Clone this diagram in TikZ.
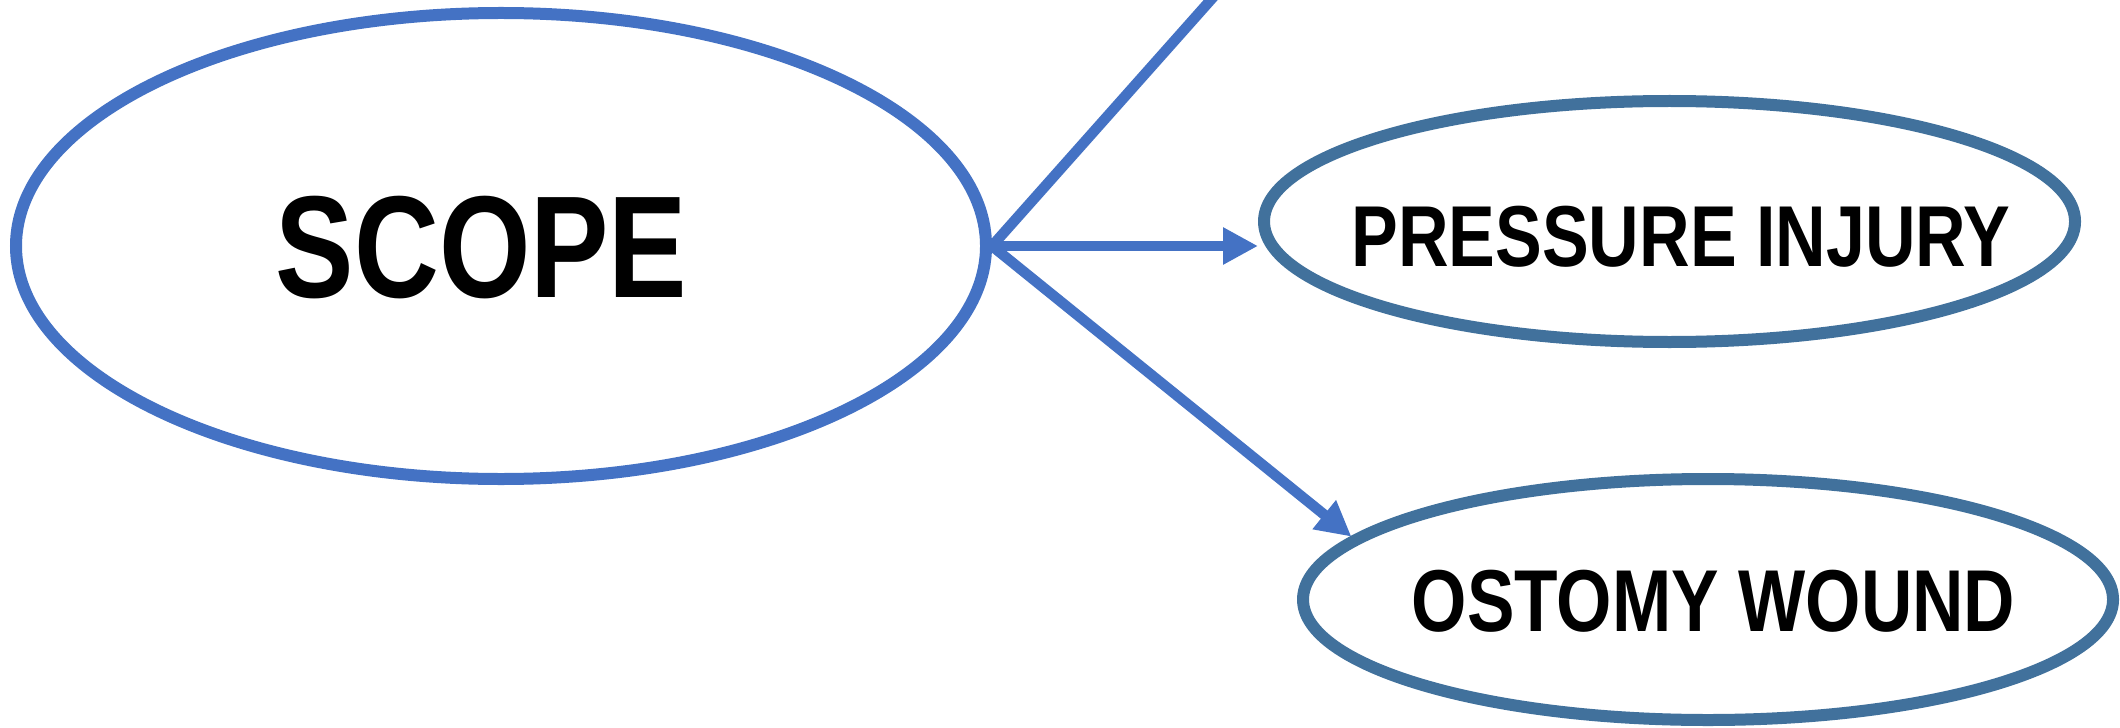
\documentclass[tikz,border=0pt]{standalone}
\usepackage{fontspec}
\usetikzlibrary{shapes.geometric, arrows.meta}
\newfontfamily\narrowsans{Liberation Sans}[FakeStretch=0.81]
\definecolor{scopeblue}{HTML}{4472C4}
\definecolor{steelblue}{HTML}{41719C}
\tikzset{
  oval/.style={ellipse, draw, line width=0.12cm, inner sep=0, fill=white},
  caption/.style={inner sep=0, text=black},
  link/.style={draw=scopeblue, line width=0.105cm},
  arrowed/.style={-{Triangle[length=0.35cm, width=0.35cm]}}
}

\begin{document}
\begin{tikzpicture}
  \useasboundingbox (0,0) rectangle (21.2,7.27);
  % ovals
  \node[oval, draw=scopeblue, minimum width=9.70cm, minimum height=4.66cm] (scope) at (5.01,4.81) {};
  \node[oval, draw=steelblue, minimum width=8.11cm, minimum height=2.41cm] (pressure) at (16.695,5.055) {};
  \node[oval, draw=steelblue, minimum width=8.10cm, minimum height=2.41cm] (ostomy) at (17.08,1.275) {};
  % captions
  \node[caption, font=\narrowsans\bfseries\fontsize{41.3}{48}\selectfont] (scopetext) at (4.815,4.79) {SCOPE};
  \node[caption, font=\narrowsans\bfseries\fontsize{24.6}{30}\selectfont] (pressuretext) at (16.81,4.90) {PRESSURE INJURY};
  \node[caption, font=\narrowsans\bfseries\fontsize{25}{30}\selectfont] (ostomytext) at (17.135,1.255) {OSTOMY WOUND};
  % links
  \coordinate (offpage) at (12.40,7.6);
  \draw[link] (scope.east) -- (offpage);
  \draw[link, arrowed] (scope.east) -- (scope.east -| pressure.west);
  \draw[link, arrowed] (scope.east) -- (ostomy.170.4);
\end{tikzpicture}
\end{document}
